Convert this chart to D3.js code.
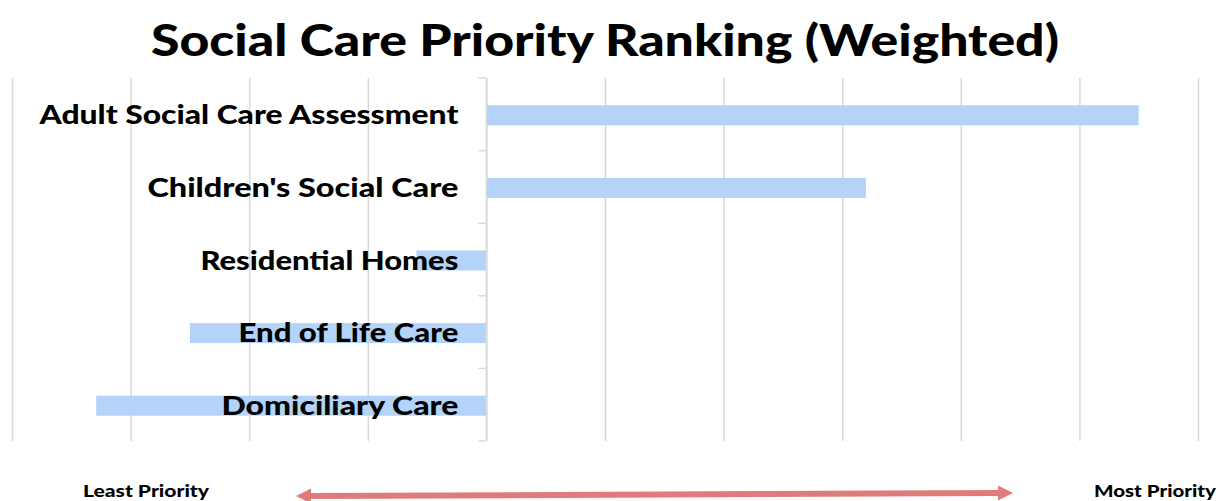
<!DOCTYPE html>
<html>
<head>
<meta charset="utf-8">
<script src="https://cdn.jsdelivr.net/npm/d3@7"></script>
<style>
  body { margin: 0; background: #fff; }
  text { font-family: "Lato", "DejaVu Sans", sans-serif; font-weight: 900; fill: #000; }
</style>
</head>
<body>
<div id="chart"></div>
<script>
// Weighted priority score per service (negative = less priority)
const categories = ["Adult Social Care Assessment", "Children's Social Care", "Residential Homes", "End of Life Care", "Domiciliary Care"];
const scores = [5.5, 3.2, -0.59, -2.5, -3.29];
const xTicks = [-4, -3, -2, -1, 0, 1, 2, 3, 4, 5, 6];

const width = 1220, height = 501;
const margin = {top: 78, left: 12, right: 22, bottom: 59};
const plotBottom = height - margin.bottom - 1;

const data = categories.map((name, i) => ({name, value: scores[i]}));

const svg = d3.select('#chart')
    .append('svg')
    .attr('width', width)
    .attr('height', height);

const x = d3.scaleLinear()
    .domain([-4, 6])
    .range([margin.left, width - margin.right]);

const y = d3.scaleBand()
    .domain(categories)
    .range([margin.top, plotBottom])
    .paddingInner(0);

const barH = 20;

// title
svg.append('text')
    .attr('x', 605)
    .attr('y', 56)
    .attr('text-anchor', 'middle')
    .style('font-size', '44px')
    .attr('textLength', 908)
    .attr('lengthAdjust', 'spacingAndGlyphs')
    .text('Social Care Priority Ranking (Weighted)');

// gridlines
const grid = svg.append('g')
    .attr('transform', `translate(0,${plotBottom})`)
    .call(d3.axisBottom(x).tickValues(xTicks).tickSize(-(plotBottom - margin.top)).tickFormat(''));
grid.select('.domain').remove();
grid.selectAll('.tick line').attr('stroke', '#d9d9d9').attr('stroke-width', 1.5);

// bars
svg.append('g')
    .selectAll('rect')
    .data(data)
    .join('rect')
    .attr('x', d => x(Math.min(0, d.value)))
    .attr('width', d => Math.abs(x(d.value) - x(0)))
    .attr('y', d => y(d.name) + y.bandwidth() / 2 - barH / 2 + 1)
    .attr('height', barH)
    .attr('fill', '#b3d3f8');

// category axis with ticks at band boundaries
const boundaries = d3.range(categories.length + 1).map(i => margin.top + i * y.step());
const ax = svg.append('g');
ax.append('line')
    .attr('x1', x(0)).attr('x2', x(0))
    .attr('y1', margin.top).attr('y2', plotBottom)
    .attr('stroke', '#d9d9d9').attr('stroke-width', 1.5);
ax.selectAll('line.tk')
    .data(boundaries)
    .join('line')
    .attr('class', 'tk')
    .attr('x1', x(0) - 8).attr('x2', x(0))
    .attr('y1', d => d).attr('y2', d => d)
    .attr('stroke', '#d9d9d9').attr('stroke-width', 1.5);

// labels
const labelWidths = [419, 311, 258, 220, 237];
svg.append('g')
    .selectAll('text')
    .data(data)
    .join('text')
    .attr('x', x(0) - 28)
    .attr('y', d => y(d.name) + y.bandwidth() / 2 + 10)
    .attr('text-anchor', 'end')
    .style('font-size', '26px')
    .attr('textLength', (d, i) => labelWidths[i])
    .attr('lengthAdjust', 'spacingAndGlyphs')
    .text(d => d.name);

// priority arrow
const defs = svg.append('defs');
defs.append('marker')
    .attr('id', 'ah')
    .attr('viewBox', '0 0 10 10')
    .attr('refX', 0).attr('refY', 5)
    .attr('markerWidth', 3).attr('markerHeight', 2.5)
    .attr('orient', 'auto-start-reverse')
    .append('path')
    .attr('d', 'M0,0 L10,5 L0,10 Z')
    .attr('fill', '#df7b7b');

svg.append('line')
    .attr('x1', 311).attr('x2', 998)
    .attr('y1', 496).attr('y2', 493)
    .attr('stroke', '#df7b7b')
    .attr('stroke-width', 6)
    .attr('marker-start', 'url(#ah)')
    .attr('marker-end', 'url(#ah)');

svg.append('text')
    .attr('x', 146).attr('y', 497)
    .attr('text-anchor', 'middle')
    .style('font-size', '17px')
    .attr('textLength', 126)
    .attr('lengthAdjust', 'spacingAndGlyphs')
    .text('Least Priority');

svg.append('text')
    .attr('x', 1155).attr('y', 497)
    .attr('text-anchor', 'middle')
    .style('font-size', '17px')
    .attr('textLength', 122)
    .attr('lengthAdjust', 'spacingAndGlyphs')
    .text('Most Priority');
</script>
</body>
</html>
